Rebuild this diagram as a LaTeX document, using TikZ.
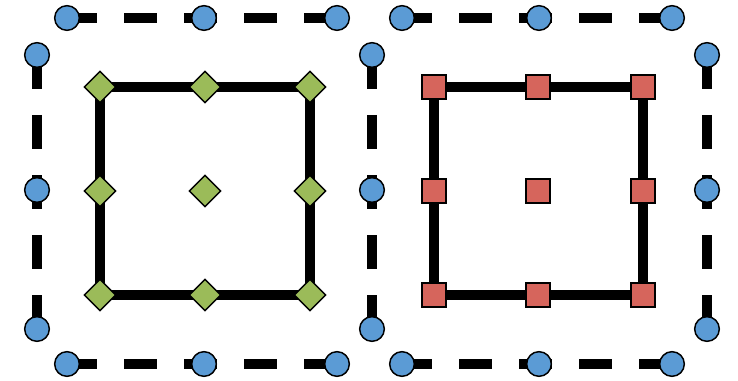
\documentclass[tikz,border=0pt]{standalone}
\usetikzlibrary{shapes.geometric,backgrounds}
\definecolor{dotblue}{RGB}{91,155,213}
\definecolor{dotgreen}{RGB}{155,187,89}
\definecolor{dotred}{RGB}{214,101,92}
\tikzset{
  vtx/.style={circle,draw=black,line width=1.1pt,fill=dotblue,inner sep=0pt,minimum size=18.5pt},
  dia/.style={diamond,draw=black,line width=1.1pt,fill=dotgreen,inner sep=0pt,minimum width=24pt,minimum height=24pt},
  sqr/.style={rectangle,draw=black,line width=1.5pt,fill=dotred,inner sep=0pt,minimum size=17.5pt},
  hline/.style={line width=6.8pt,dash pattern=on 24.75pt off 20.25pt,dash phase=2.25pt},
  vline/.style={line width=6.8pt,dash pattern=on 25.5pt off 19.5pt},
  innerline/.style={line width=7pt}
}

\begin{document}
\begin{tikzpicture}[x=0.75pt,y=-0.75pt]
\useasboundingbox (0,0) rectangle (738,381);

% Left figure
\begin{scope}[xshift=0pt]
\node[vtx] (lt1) at (67,18) {};
\node[vtx] (lt2) at (204,18) {};
\node[vtx] (lt3) at (337,18) {};
\node[vtx] (lb1) at (67,364) {};
\node[vtx] (lb2) at (204,364) {};
\node[vtx] (lb3) at (337,364) {};
\node[vtx] (ll1) at (37,55) {};
\node[vtx] (ll2) at (37,190) {};
\node[vtx] (ll3) at (37,329) {};
\node[vtx] (m1) at (372,55) {};
\node[vtx] (m2) at (372,190) {};
\node[vtx] (m3) at (372,329) {};
\node[dia] (g11) at (100,87) {};
\node[dia] (g12) at (205,87) {};
\node[dia] (g13) at (310,87) {};
\node[dia] (g21) at (100,191) {};
\node[dia] (g22) at (205,191) {};
\node[dia] (g23) at (310,191) {};
\node[dia] (g31) at (100,295) {};
\node[dia] (g32) at (205,295) {};
\node[dia] (g33) at (310,295) {};
\begin{scope}[on background layer]
\draw[hline] (lt1.center) -- (lt3.center);
\draw[hline] (lb1.center) -- (lb3.center);
\draw[vline] (ll1.center) -- (ll3.center);
\draw[vline] (m1.center) -- (m3.center);
\draw[innerline] (g11.center) -- (g13.center) -- (g33.center) -- (g31.center) -- cycle;
\end{scope}
\end{scope}

% Right figure
\begin{scope}[xshift=251.25pt]
\node[vtx] (rt1) at (67,18) {};
\node[vtx] (rt2) at (204,18) {};
\node[vtx] (rt3) at (337,18) {};
\node[vtx] (rb1) at (67,364) {};
\node[vtx] (rb2) at (204,364) {};
\node[vtx] (rb3) at (337,364) {};
\node[vtx] (rr1) at (372,55) {};
\node[vtx] (rr2) at (372,190) {};
\node[vtx] (rr3) at (372,329) {};
\node[sqr] (s11) at (99,87) {};
\node[sqr] (s12) at (203,87) {};
\node[sqr] (s13) at (308,87) {};
\node[sqr] (s21) at (99,191) {};
\node[sqr] (s22) at (203,191) {};
\node[sqr] (s23) at (308,191) {};
\node[sqr] (s31) at (99,295) {};
\node[sqr] (s32) at (203,295) {};
\node[sqr] (s33) at (308,295) {};
\begin{scope}[on background layer]
\draw[hline] (rt1.center) -- (rt3.center);
\draw[hline] (rb1.center) -- (rb3.center);
\draw[vline] (rr1.center) -- (rr3.center);
\draw[innerline] (s11.center) -- (s13.center) -- (s33.center) -- (s31.center) -- cycle;
\end{scope}
\end{scope}
\end{tikzpicture}
\end{document}
